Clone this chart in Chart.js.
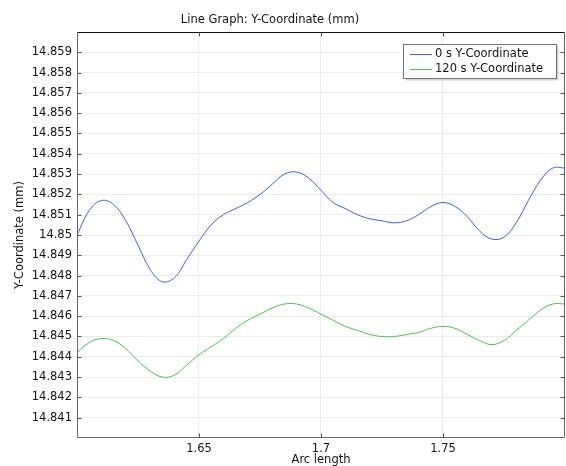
<!DOCTYPE html>
<html>
<head>
<meta charset="utf-8">
<script src="https://cdn.jsdelivr.net/npm/chart.js@4.4.1/dist/chart.umd.min.js"></script>
<style>
  html, body { margin: 0; padding: 0; background: #fff; }
  canvas { display: block; }
</style>
</head>
<body>
<canvas id="c" width="566" height="466"></canvas>
<script>
// Arc length samples along the boundary
const arcLength = [
  1.600, 1.605, 1.610, 1.615, 1.620, 1.625, 1.630, 1.635, 1.640, 1.645,
  1.650, 1.655, 1.660, 1.665, 1.670, 1.675, 1.680, 1.685, 1.690, 1.695,
  1.700, 1.705, 1.710, 1.715, 1.720, 1.725, 1.730, 1.735, 1.740, 1.745,
  1.750, 1.755, 1.760, 1.765, 1.770, 1.775, 1.780, 1.785, 1.790, 1.795,
  1.800
];

// Y-coordinate (mm) at t = 0 s
const yCoord0s = [
  14.8500, 14.8512, 14.8517, 14.8515, 14.8507, 14.8495, 14.8483, 14.8477, 14.8479, 14.8488,
  14.8497, 14.8505, 14.8510, 14.8513, 14.8516, 14.8520, 14.8525, 14.8530, 14.8531, 14.8528,
  14.8522, 14.8516, 14.8513, 14.8510, 14.8508, 14.8507, 14.8506, 14.8507, 14.8510, 14.8514,
  14.8516, 14.8514, 14.8509, 14.8502, 14.8498, 14.8499, 14.8506, 14.8517, 14.8527, 14.8533,
  14.8533
];

// Y-coordinate (mm) at t = 120 s
const yCoord120s = [
  14.8442, 14.8447, 14.8449, 14.8448, 14.8444, 14.8438, 14.8433, 14.8430, 14.8431, 14.8436,
  14.8441, 14.8445, 14.8449, 14.8454, 14.8458, 14.8461, 14.8464, 14.8466, 14.8466, 14.8464,
  14.8461, 14.8458, 14.8455, 14.8453, 14.8451, 14.8450, 14.8450, 14.8451, 14.8452, 14.8454,
  14.8455, 14.8454, 14.8451, 14.8448, 14.8446, 14.8448, 14.8453, 14.8458, 14.8463, 14.8466,
  14.8466
];

const seriesLabels = ['0 s Y-Coordinate', '120 s Y-Coordinate'];
const seriesColors = ['#3a5cff', '#48c448'];

const yTickValues = [
  14.841, 14.842, 14.843, 14.844, 14.845, 14.846, 14.847, 14.848, 14.849, 14.850,
  14.851, 14.852, 14.853, 14.854, 14.855, 14.856, 14.857, 14.858, 14.859
];
const xTickValues = [1.65, 1.70, 1.75];

const chartTitle = 'Line Graph: Y-Coordinate (mm)';
const xTitle = 'Arc length';
const yTitle = 'Y-Coordinate (mm)';

const FONT = '"DejaVu Sans", sans-serif';
const FONT_SIZE = 11.5;
Chart.defaults.font.family = FONT;
Chart.defaults.font.size = FONT_SIZE;
Chart.defaults.color = '#141414';

function toPoints(xs, ys) {
  return xs.map((x, i) => ({ x: x, y: ys[i] }));
}

// Plot frame, inward tick marks, title and the boxed legend
const decorations = {
  id: 'decorations',
  afterDraw(chart) {
    const { ctx, chartArea: a, scales } = chart;
    const L = Math.round(a.left) + 0.5, R = Math.round(a.right) - 0.5;
    const T = Math.round(a.top) + 0.5, B = Math.round(a.bottom) - 0.5;
    ctx.save();

    // frame
    ctx.lineWidth = 1;
    ctx.strokeStyle = '#111';
    ctx.beginPath(); ctx.moveTo(L, T); ctx.lineTo(R, T); ctx.stroke();
    ctx.strokeStyle = '#666';
    ctx.beginPath(); ctx.moveTo(L, T); ctx.lineTo(L, B); ctx.lineTo(R, B); ctx.lineTo(R, T); ctx.stroke();

    // inward ticks
    ctx.strokeStyle = '#555';
    const tl = 4;
    scales.y.ticks.forEach(t => {
      const p = Math.round(scales.y.getPixelForValue(t.value)) + 0.5;
      ctx.beginPath();
      ctx.moveTo(L, p); ctx.lineTo(L + tl, p);
      ctx.moveTo(R, p); ctx.lineTo(R - tl, p);
      ctx.stroke();
    });
    scales.x.ticks.forEach(t => {
      const p = Math.round(scales.x.getPixelForValue(t.value)) + 0.5;
      ctx.beginPath();
      ctx.moveTo(p, B); ctx.lineTo(p, B - tl);
      ctx.moveTo(p, T); ctx.lineTo(p, T + tl);
      ctx.stroke();
    });

    // title
    ctx.fillStyle = '#141414';
    ctx.font = FONT_SIZE + 'px ' + FONT;
    ctx.textAlign = 'center';
    ctx.textBaseline = 'middle';
    ctx.fillText(chartTitle, 270, 20);

    // legend box
    const bx = 403.5, by = 44.5, bw = 153, bh = 34;
    ctx.fillStyle = 'rgba(0,0,0,0.18)';
    ctx.fillRect(bx + 2, by + 2, bw, bh);
    ctx.fillStyle = '#fff';
    ctx.fillRect(bx, by, bw, bh);
    ctx.strokeStyle = '#777';
    ctx.strokeRect(bx, by, bw, bh);
    ctx.textAlign = 'left';
    chart.data.datasets.forEach((ds, i) => {
      const ly = Math.round(by + 9 + i * 15) + 0.5;
      ctx.strokeStyle = ds.borderColor;
      ctx.beginPath(); ctx.moveTo(410, ly); ctx.lineTo(432, ly); ctx.stroke();
      ctx.fillStyle = '#141414';
      ctx.fillText(ds.label, 435, ly);
    });
    ctx.restore();
  }
};

new Chart(document.getElementById('c'), {
  type: 'line',
  data: {
    datasets: [
      { label: seriesLabels[0], data: toPoints(arcLength, yCoord0s), borderColor: seriesColors[0] },
      { label: seriesLabels[1], data: toPoints(arcLength, yCoord120s), borderColor: seriesColors[1] }
    ]
  },
  options: {
    responsive: false,
    animation: false,
    devicePixelRatio: 1,
    layout: { padding: { top: 32, right: 1, left: 0, bottom: 0 } },
    elements: {
      line: { borderWidth: 1, tension: 0.4, fill: false },
      point: { radius: 0 }
    },
    plugins: { legend: { display: false }, title: { display: false }, tooltip: { enabled: false } },
    scales: {
      x: {
        type: 'linear',
        min: 1.6,
        max: 1.8,
        afterBuildTicks: s => { s.ticks = xTickValues.map(v => ({ value: v })); },
        afterFit: s => { s.height = 28; },
        grid: { color: '#ececec', drawTicks: false },
        border: { display: false },
        ticks: {
          padding: 4,
          maxRotation: 0,
          callback: v => String(Number(v.toFixed(2)))
        },
        title: { display: true, text: xTitle, padding: { top: 0, bottom: 0 }, font: { lineHeight: 1 } }
      },
      y: {
        type: 'linear',
        min: 14.840,
        max: 14.860,
        afterBuildTicks: s => { s.ticks = yTickValues.map(v => ({ value: v })); },
        afterFit: s => { s.width = 77; },
        grid: { color: '#ececec', drawTicks: false },
        border: { display: false },
        ticks: {
          padding: 5,
          callback: v => String(Number(v.toFixed(3)))
        },
        title: { display: true, text: yTitle, padding: { top: 13, bottom: 0 } }
      }
    }
  },
  plugins: [decorations]
});
</script>
</body>
</html>
